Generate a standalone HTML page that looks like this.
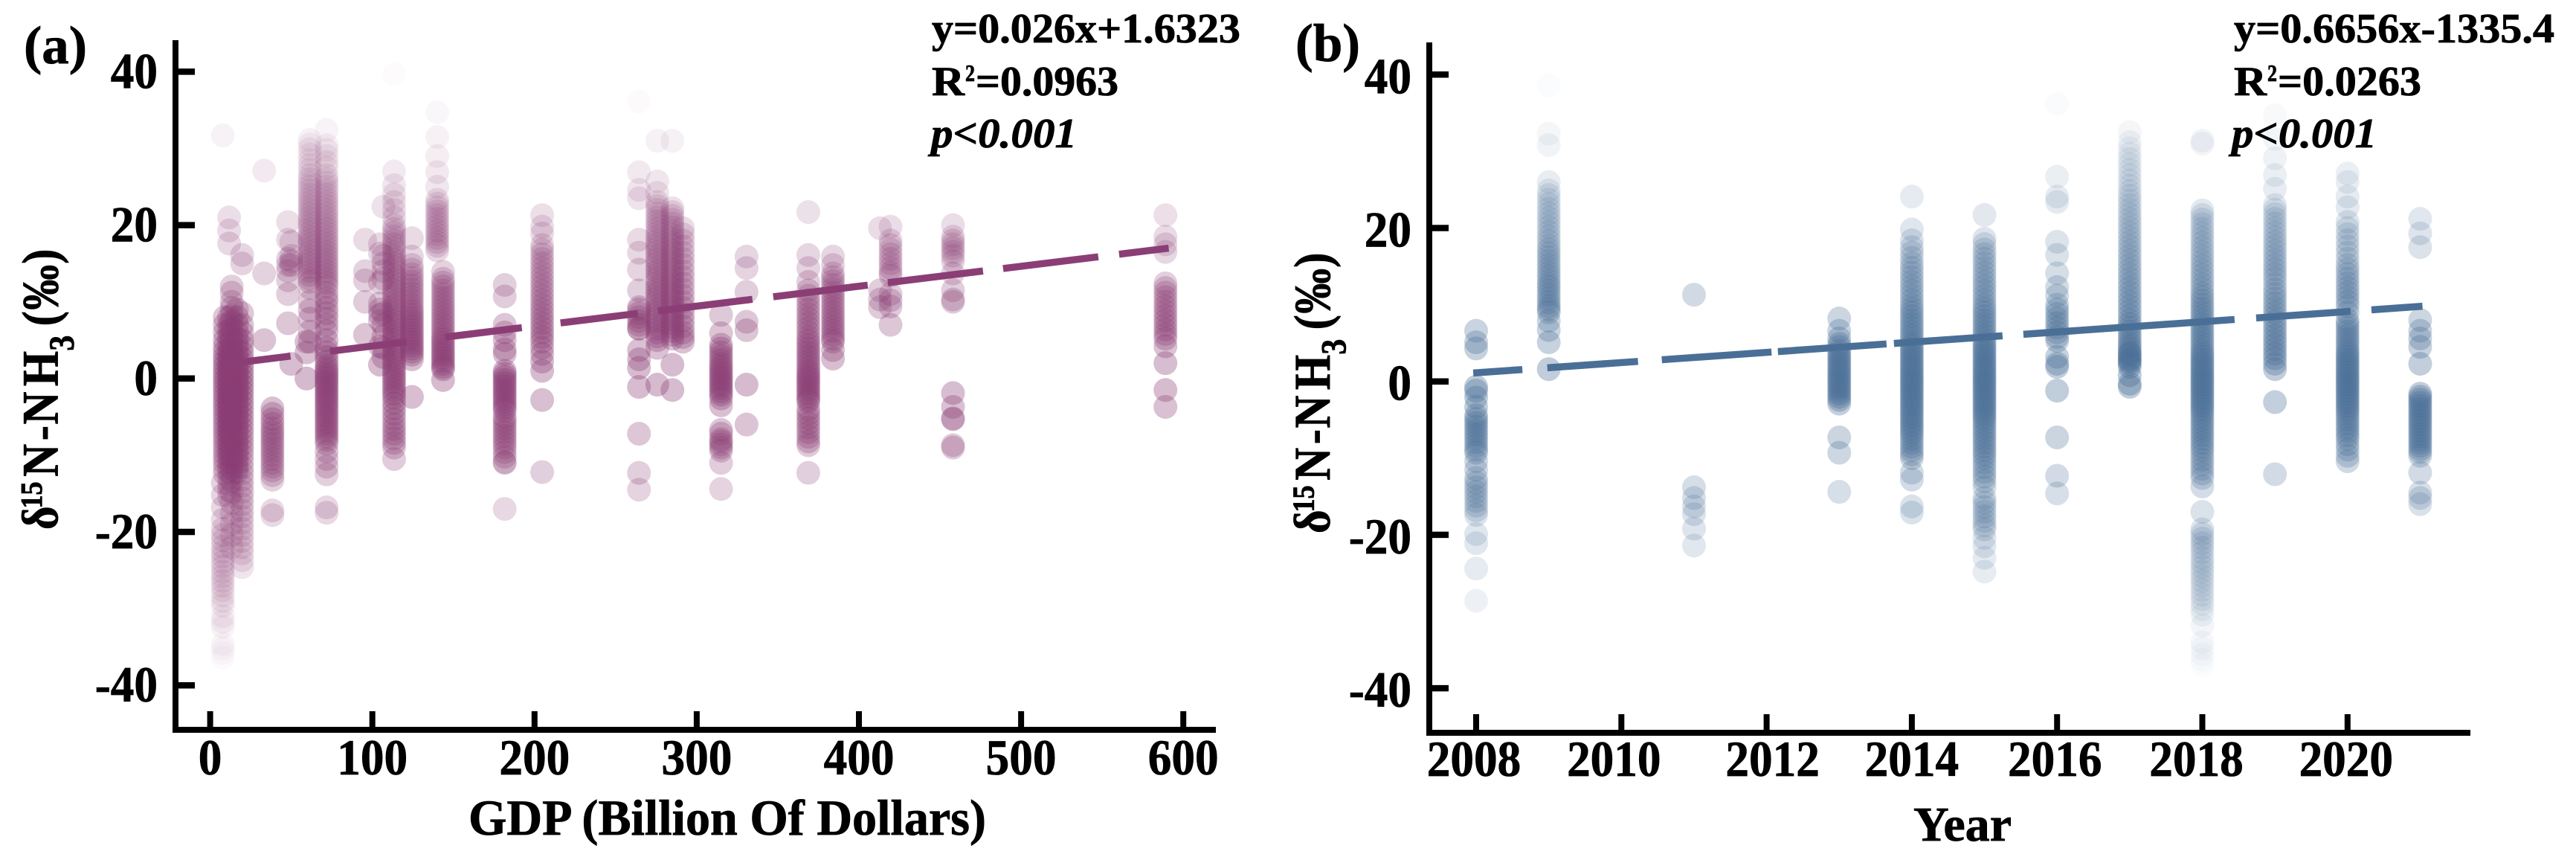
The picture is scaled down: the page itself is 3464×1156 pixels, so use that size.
<!DOCTYPE html>
<html lang="en">
<head>
<meta charset="utf-8">
<title>δ15N-NH3 versus GDP and Year</title>
<style>
html,body{margin:0;padding:0;background:#fff;width:3464px;height:1156px;overflow:hidden}
svg{display:block}
text{font-family:"Liberation Serif",serif;font-weight:bold;fill:#000;stroke:#000;stroke-width:.8px}
</style>
</head>
<body>
<svg id="chart" xmlns="http://www.w3.org/2000/svg" width="3464" height="1156" viewBox="0 0 3464 1156">
  <g id="panel-a">
    <g id="a-points"></g>
    <g id="a-fit"></g>
    <g id="a-axes"></g>
    <text x="32" y="85" font-size="72" textLength="85" lengthAdjust="spacingAndGlyphs">(a)</text>
    <text x="630" y="1122" font-size="68" textLength="696" lengthAdjust="spacingAndGlyphs">GDP (Billion Of Dollars)</text>
    <g transform="translate(77.5 712) rotate(-90) scale(.95 1.08)">
      <text font-size="64"><tspan x="0" y="0">δ</tspan><tspan x="30" y="-20" font-size="38">15</tspan><tspan x="75" y="0">N</tspan><tspan x="126" y="0">-</tspan><tspan x="149" y="0">N</tspan><tspan x="203" y="0">H</tspan><tspan x="253" y="20" font-size="44">3</tspan><tspan x="288" y="0">(</tspan><tspan x="311" y="0">‰</tspan><tspan x="376" y="0">)</tspan></text>
    </g>
    <text x="1253" y="57" font-size="56" textLength="415" lengthAdjust="spacingAndGlyphs">y=0.026x+1.6323</text>
    <g>
      <text x="1253" y="128" font-size="56" textLength="44" lengthAdjust="spacingAndGlyphs">R</text>
      <text x="1298" y="109" font-size="32" textLength="13" lengthAdjust="spacingAndGlyphs">2</text>
      <text x="1312" y="128" font-size="56" textLength="192" lengthAdjust="spacingAndGlyphs">=0.0963</text>
    </g>
    <text x="1252" y="198" font-size="56" font-style="italic" textLength="196" lengthAdjust="spacingAndGlyphs">p&lt;0.001</text>
  </g>
  <g id="panel-b">
    <g id="b-points"></g>
    <g id="b-fit"></g>
    <g id="b-axes"></g>
    <text x="1742" y="82" font-size="72" textLength="87" lengthAdjust="spacingAndGlyphs">(b)</text>
    <text x="2573" y="1130" font-size="66" textLength="132" lengthAdjust="spacingAndGlyphs">Year</text>
    <g transform="translate(1788 717) rotate(-90) scale(.95 1.08)">
      <text font-size="64"><tspan x="0" y="0">δ</tspan><tspan x="30" y="-20" font-size="38">15</tspan><tspan x="75" y="0">N</tspan><tspan x="126" y="0">-</tspan><tspan x="149" y="0">N</tspan><tspan x="203" y="0">H</tspan><tspan x="253" y="20" font-size="44">3</tspan><tspan x="288" y="0">(</tspan><tspan x="311" y="0">‰</tspan><tspan x="376" y="0">)</tspan></text>
    </g>
    <text x="3004" y="57" font-size="56" textLength="431" lengthAdjust="spacingAndGlyphs">y=0.6656x-1335.4</text>
    <g>
      <text x="3004" y="128" font-size="56" textLength="44" lengthAdjust="spacingAndGlyphs">R</text>
      <text x="3049" y="109" font-size="32" textLength="13" lengthAdjust="spacingAndGlyphs">2</text>
      <text x="3063" y="128" font-size="56" textLength="193" lengthAdjust="spacingAndGlyphs">=0.0263</text>
    </g>
    <text x="3001" y="198" font-size="56" font-style="italic" textLength="195" lengthAdjust="spacingAndGlyphs">p&lt;0.001</text>
  </g>
</svg>
<script>
const gdpTicks = [0,100,200,300,400,500,600];
const isotopeTicks = [40,20,0,-20,-40];
const yearTicks = [2008,2010,2012,2014,2016,2018,2020];
const gdpFitSlope = 0.026;
const gdpFitIntercept = 1.6323;
const gdpFitRange = [6,591];
const yearFitSlope = 0.6656;
const yearFitIntercept = -1335.4;
const yearFitRange = [2007.96,2021.04];

const gdpColumns = [7.8,9,11.7,13.3,16.5,19.7,33.3,38.4,48,50,59.4,61.4,71.8,95.5,104.7,106.8,113.4,124.4,140,143.6,181.6,204.7,264.4,275.7,285,291.5,315,330.7,368.8,384,413,419.5,458,589];
const gdpValues = [
[31.7,-13.6,-15.2,-16.8,-18.4,-19.6,-20.4,-21.1,-21.9,-22.6,-23.2,-23.9,-24.5,-25.2,-25.8,-26.4,-27,-27.6,-28.3,-29,-29.6,-31,-31.7,-32.4,-34.6,-35.2,-35.8,-36.4],
[8,7,6,5,4.2,3.5,2.8,2.2,1.6,1,.4,-.2,-.8,-1.4,-2,-2.6,-3.2,-3.8,-4.4,-5,-5.6,-6.2,-6.8,-7.4,-8,-8.6,-9.2,-9.8,-10.4,-11,-11.7,-12.4],
[21,19.3,17.6,8,7,6.2,5.4,4.6,3.8,3.2,2.6,2,1.4,.9,.4,-.2,-.7,-1.2,-1.7,-2.2,-2.7,-3.2,-3.7,-4.2,-4.7,-5.2,-5.7,-6.2,-6.7,-7.2,-7.7,-8.3,-8.9,-9.5,-10.1,-10.8,-11.5,-12.2,-13,-13.8,-14.6,-15.4],
[12,11.2,10,9.2,8.2,7.4,6.6,5.8,5,4.3,3.6,3,2.4,1.8,1.2,.6,0,-.5,-1,-1.5,-2,-2.5,-3,-3.5,-4,-4.5,-5,-5.6,-6.2,-6.8,-7.4,-8,-8.6,-9.2,-9.8,-10.4,-11,-11.7,-12.4,-13.4,-14.8,-16.2,-17.6,-19,-20.4,-22],
[9,8,7,6,5.2,4.4,3.7,3,2.3,1.6,1,.4,-.2,-.8,-1.4,-2,-2.6,-3.2,-3.8,-4.4,-5,-5.6,-6.2,-6.8,-7.4,-8,-8.6,-9.2,-9.8,-10.4,-11,-11.6,-12.2],
[16.1,15,8.5,7,6,5,4.2,3.4,2.6,1.9,1.2,.5,-.2,-.9,-1.6,-2.3,-3,-3.7,-4.4,-5.1,-5.8,-6.5,-7.2,-7.9,-8.6,-9.3,-10,-10.8,-11.6,-12.4,-13.2,-14,-14.8,-15.6,-16.4,-17.2,-18,-18.8,-19.6,-20.4,-21.2,-22,-22.8,-23.7,-24.6],
[27.1,13.7,5],
[-3.9,-4.6,-5.3,-5.9,-6.5,-7,-7.5,-8,-8.5,-9,-9.5,-10,-10.5,-11,-11.5,-12,-12.6,-13.2,-17.2,-17.8],
[20.4,18.1,15.6,14.8,14,12.8,11,7.2],
[17.8,16,15.3,14.8,1.9],
[4.8,3.4,0],
[31.1,30.5,29.9,29.2,28.5,27.8,27.2,26.5,26,25.5,25,24.5,24,23.5,23,22.5,22,21.5,21,20.5,20,19.5,19,18.5,18,17.5,17,16.5,16,15.5,15,14.5,14,13.5,13,12.6,11.8,10,8.9,7.8,6.1,4.8],
[32.4,30.4,29.8,29,28.2,27.5,26.5,26,25.5,25,24.5,24,23.5,23,22.5,22,21.5,21,20.5,20,19.5,19,18.5,18,17.5,17,16.5,16,15.5,15,14.5,14,13.5,13,12.5,12,11.2,10.5,10,9.2,8.5,7.8,7,6.2,5,4,3.4,2.8,2.2,1.6,1.2,.8,.4,0,-.4,-.8,-1.2,-1.6,-2,-2.4,-2.8,-3.2,-3.6,-4,-4.4,-4.8,-5.2,-5.6,-6,-6.4,-6.8,-7.2,-7.6,-8,-8.5,-9.5,-10.5,-11.5,-12.5,-16.8,-17.5],
[18.1,14,12.8,10,5.7],
[17.5,16.3,12.5,9.8,9,8.3,7.5,4.2,1.8],
[22.4,16,15,14,13,8.5,7,5.5,4,2.8],
[39.7,27,25.2,24,23,22,21,20,19.5,19,18.5,18,17.5,17,16.5,16,15.5,15,14.5,14,13.5,13,12.5,12,11.5,11,10.5,10,9.5,9,8.5,8,7.5,7,6.5,6,5.5,5,4.5,4,3.5,3,2.5,2,1.5,1,.5,0,-.5,-1,-1.5,-2,-2.5,-3.2,-3.9,-4.6,-5.3,-6,-6.6,-7.2,-7.8,-8.4,-9,-10.5],
[18.3,15.9,14.8,14.2,13.6,13.1,12.6,12.1,11.6,11.1,10.6,10.1,9.6,9.1,8.7,8.3,7.9,7.5,7.1,6.7,6.3,5.9,5.5,5.1,4.7,4.3,3.9,3.5,3.1,2.5,-2.4],
[34.7,31.5,29,26.9,25,23.3,22.8,22.3,21.8,21.3,20.8,20.3,19.8,19.3,18.8,18.3,17.8,17.3,16.7],
[13.9,13,12.5,12,11.5,11,10.5,10,9.5,9,8.5,8,7.5,7,6.5,6,5.5,5.1,4.7,4.3,3.9,3.5,3.1,2.7,2.3,1.9,1.5,1.2,-.2],
[12.2,10.7,7,6,5,3.8,3.2,1,.6,.2,-.2,-.6,-1,-1.4,-1.8,-2.2,-2.6,-3,-3.4,-3.8,-4.2,-5,-5.5,-6,-6.5,-7,-7.5,-8,-8.5,-9,-9.6,-10.2,-10.9,-11,-17],
[21.3,19.8,18.9,17.4,16.8,16.2,15.6,15,14.4,13.8,13.2,12.6,12,11.4,10.8,10.2,9.6,9,8.4,7.8,7.2,6.6,6,5.4,4.8,4,3.2,2.2,1,-2.8,-12.2],
[36.1,26.9,24.6,23.5,18.1,16.4,14.2,11.5,9.3,9,8.5,8,7.5,7,6.5,6.5,3.7,2.5,1.4,-1.1,-7.2,-12.3,-14.5],
[31,25.7,24.2,23,22.5,22,21.5,21,20.5,20,19.5,19,18.5,18,17.5,17,16.5,16,15.5,15,14.5,14,13.5,13,12.5,12,11.5,11,10.5,10,9.5,9,8.5,8,7.5,7,6.5,6,5.5,5,4,-.8],
[31,22.2,21.7,21.2,20.7,20.2,19.7,19.2,18.7,18.2,17.7,17.2,16.7,16.2,15.7,15.2,14.7,14.2,13.7,13.2,12.7,12.2,11.7,11.2,10.7,10.2,9.7,9.2,8.7,8.2,7.7,7.2,6.7,6.2,5.7,5.2,1.8,-1.5],
[19.6,18.8,18,17.2,16.4,15.6,14.8,14,13.2,12.4,11.6,10.8,10,9.2,8.4,7.6,6.8,6,5.4,4.8],
[8.3,5.9,4.4,3.9,3.4,2.9,2.4,1.9,1.5,1.1,.7,.3,-.1,-.5,-.9,-1.3,-1.7,-2.1,-2.6,-3.5,-6.7,-7.2,-7.9,-8.2,-8.6,-9,-9.4,-11,-14.4],
[15.9,14.4,11.3,7.4,6.3,-.8,-6],
[21.7,16.1,14.4,12.6,11.5,10.8,10.2,9.6,9,8.4,7.8,7.2,6.6,6,5.4,4.9,4.4,3.9,3.4,2.9,2.4,1.9,1.4,.9,.5,.1,-.3,-.7,-1.1,-1.5,-1.9,-2.3,-2.7,-3,-4,-4.6,-5.2,-5.8,-6.4,-7,-7.6,-8.2,-8.7,-12.3],
[15.9,14.8,13.7,13.2,12.7,12.2,11.7,11.2,10.7,10.2,9.7,9.2,8.7,8.2,7.7,7.2,6.7,6.2,5.7,5.2,4.8,3.7,2.6],
[19.6,11.5,10.3,9.3],
[19.8,18,17.4,16.8,16.2,15.6,15,14.4,13.8,13.4,11,10.2,9.4,7],
[20,18.5,18,17.5,17,16.5,16,15.3,13.7,11.5,10.3,10,-1.9,-3.7,-5.2,-5.3,-8.7,-9],
[21.3,18.5,17.5,16.5,12.4,11.8,11.2,10.6,10,9.4,8.8,8.2,7.6,7,6.4,5.8,5.2,4.2,2,-1.5,-3.7]
];

const yearColumns = [2008,2009,2011,2013,2014,2015,2016,2017,2018,2019,2020,2021];
const yearValues = [
[6.6,5.1,4.3,-.7,-1.2,-2.1,-3.3,-4.4,-4.9,-5.4,-5.9,-6.4,-6.9,-7.4,-7.9,-8.4,-8.9,-9.3,-10.4,-11.5,-12.6,-13.2,-13.8,-14.4,-15,-15.6,-16.2,-16.8,-17.4,-19.9,-21.1,-24.4,-28.6],
[38.6,32.3,30.8,26,24.9,24.3,23.7,23.1,22.5,21.9,21.3,20.7,20.1,19.5,18.9,18.3,17.7,17.2,16.7,16.2,15.7,15.2,14.7,14.2,13.7,13.2,12.7,12.3,11.8,11.3,10.8,10.3,9.8,9.4,9,7.9,6.7,5.1,1.6],
[11.3,-13.8,-15.2,-16.3,-17.3,-19.2,-21.4],
[8.2,6.6,5.6,4.9,4.5,4,3.6,3.2,2.8,2.4,2,1.6,1.2,.8,.4,0,-.4,-.8,-1.2,-1.6,-2,-2.4,-2.9,-7.3,-9.3,-14.4],
[24.1,19.8,18.4,17.5,16.8,16.1,15.4,14.8,14.2,13.6,13,12.4,11.8,11.2,10.6,10,9.5,9,8.5,8,7.5,7,6.5,6,5.5,5,4.6,4.2,3.8,3.4,3,2.6,2.2,1.8,1.4,1,.6,.2,-.2,-.6,-1,-1.4,-1.8,-2.2,-2.6,-3,-3.4,-3.8,-4.2,-4.6,-5,-5.4,-5.8,-6.2,-6.6,-7,-7.5,-8,-8.5,-9,-9.5,-10,-11.9,-12.8,-16.3,-17.1],
[21.7,18.6,17.9,17.2,16.6,16,15.4,14.8,14.2,13.6,13,12.4,11.8,11.2,10.6,10,9.5,9,8.5,8,7.5,7,6.5,6,5.5,5,4.6,4.2,3.8,3.4,3,2.6,2.2,1.8,1.4,1,.6,.2,-.2,-.6,-1,-1.4,-1.8,-2.2,-2.6,-3,-3.4,-3.8,-4.2,-4.6,-5,-5.5,-6,-6.5,-7,-7.5,-8,-8.5,-9,-9.5,-10,-10.6,-11.2,-11.8,-12.4,-13,-13.8,-15.2,-15.8,-16.4,-17,-17.6,-18.2,-18.8,-19.3,-20.4,-21.5,-23,-24.8],
[36.2,26.7,24.1,23.4,18.2,16.5,14.1,12.3,11.2,10,9.4,8.8,8.2,7.6,7,6.4,5.8,5.3,3.2,2.3,1.9,-1.2,-7.3,-12.3,-14.6],
[32.5,31.2,30.4,29.7,29,28.3,27.6,26.9,26.2,25.5,24.8,24.2,23.6,23,22.4,21.8,21.2,20.6,20,19.4,18.8,18.2,17.6,17,16.4,15.8,15.2,14.6,14,13.4,12.8,12.2,11.6,11,10.4,9.8,9.2,8.6,8,7.5,7,6.5,6,5.5,5,4.6,4.2,3.8,3.6,3.4,3,2.8,2.6,2.3,1.9,.8,-.3,-.7],
[31.4,31,22.3,21.7,21.1,20.5,19.9,19.3,18.7,18.1,17.5,16.9,16.3,15.7,15.1,14.5,13.9,13.3,12.7,12.1,11.5,11,10.5,10,9.5,9,8.5,8,7.5,7,6.5,6,5.5,5,4.5,4,3.6,3.2,2.8,2.4,2,1.6,1.2,.8,.4,0,-.4,-.8,-1.2,-1.6,-2,-2.4,-2.8,-3.2,-3.6,-4,-4.5,-5,-5.5,-6,-6.5,-7,-7.5,-8,-8.5,-9,-9.6,-10.2,-10.8,-11.4,-12,-12.6,-13.7,-17,-19.3,-19.9,-20.5,-21.1,-21.7,-22.3,-23,-23.6,-24.2,-24.8,-25.4,-26,-26.6,-27.2,-27.8,-28.4,-29,-29.7,-30.4,-31.8,-34,-34.8,-35.6,-36.3,-37],
[34.7,31.6,29.1,26.9,25.1,23,22.4,21.8,21.2,20.6,20,19.4,18.8,18.2,17.6,17,16.4,15.8,15.2,14.6,14,13.4,12.7,12,11.4,10.8,10.2,9.6,9,8.4,7.8,7.2,6.6,6,5.4,4.8,4.2,3.6,3,2.3,1.6,-2.7,-12.1],
[27.1,26,24.1,22.7,20.8,20,19.2,18.4,17.6,16.8,16,15.2,14.6,14,13.4,12.8,12.2,11.6,11,10.4,9.8,9,8,7.5,7,6.5,6,5.5,5,4.5,4,3.6,3.2,2.8,2.4,2,1.6,1.2,.8,.4,0,-.4,-.8,-1.2,-1.6,-2,-2.4,-2.8,-3.2,-3.6,-4,-4.5,-5,-5.5,-6,-6.5,-7,-7.5,-8.2,-8.9,-9.7,-10.4],
[21.2,19.3,17.5,8,6.6,5.6,4.5,2.3,-1.6,-2,-2.4,-2.8,-3.2,-3.6,-4,-4.4,-4.8,-5.2,-5.6,-6,-6.4,-6.8,-7.2,-7.6,-8,-8.4,-8.8,-9.2,-9.7,-11.9,-14.5,-15.2,-16]
];

const yearLabelNudge = {2008:-3,2010:-10,2012:8,2014:0,2016:-3,2018:-8,2020:-2};

const SVG_NS = 'http://www.w3.org/2000/svg';
const gdpToX = v => 282.6 + 2.181 * v;
const isotopeToYA = v => 508.8 - 10.31 * v;
const yearToX = v => 1985 + 97.65 * (v - 2008);
const isotopeToYB = v => 512.7 - 10.31 * v;
const pointAlpha = v => Math.max(0.02, 0.36 - 0.0092 * Math.abs(v));

function drawPoints(groupId, columns, values, xScale, yScale, color, pointName) {
  const group = document.getElementById(groupId);
  columns.forEach((column, i) => {
    values[i].forEach(value => {
      const dot = document.createElementNS(SVG_NS, 'circle');
      
      
      dot.setAttribute('cx', xScale(column));
      dot.setAttribute('cy', yScale(value));
      dot.setAttribute('r', 16);
      dot.setAttribute('fill', color);
      dot.setAttribute('fill-opacity', pointAlpha(value));
      group.appendChild(dot);
    });
  });
}

function drawFit(groupId, range, slope, intercept, xScale, yScale, color, dashes, fitName) {
  const group = document.getElementById(groupId);
  const line = document.createElementNS(SVG_NS, 'line');
  
  
  line.setAttribute('x1', xScale(range[0]));
  line.setAttribute('y1', yScale(slope * range[0] + intercept));
  line.setAttribute('x2', xScale(range[1]));
  line.setAttribute('y2', yScale(slope * range[1] + intercept));
  line.setAttribute('stroke', color);
  line.setAttribute('stroke-width', 9.5);
  line.setAttribute('stroke-dasharray', dashes);
  group.appendChild(line);
}

function rule(group, x1, y1, x2, y2, width, name) {
  const el = document.createElementNS(SVG_NS, 'line');
  
  
  el.setAttribute('x1', x1);
  el.setAttribute('y1', y1);
  el.setAttribute('x2', x2);
  el.setAttribute('y2', y2);
  el.setAttribute('stroke', '#000');
  el.setAttribute('stroke-width', width);
  group.appendChild(el);
}

function tickText(group, str, x, y, anchor, name) {
  const t = document.createElementNS(SVG_NS, 'text');
  
  
  t.setAttribute('transform', 'translate(' + x + ' ' + y + ') scale(.93 1)');
  t.setAttribute('font-size', 68);
  t.setAttribute('text-anchor', anchor);
  t.textContent = str;
  group.appendChild(t);
}

function drawAxes(groupId, opts) {
  const group = document.getElementById(groupId);
  rule(group, opts.axisX, opts.top, opts.axisX, opts.axisY + 4, 8, 'y-axis-line');
  rule(group, opts.axisX - 4, opts.axisY, opts.right, opts.axisY, 8, 'x-axis-line');
  opts.yTicks.forEach(v => {
    rule(group, opts.axisX, opts.yScale(v), opts.axisX + 26, opts.yScale(v), 8.5, 'y-tick');
    tickText(group, String(v), opts.axisX - 24, opts.yScale(v) + opts.yLabelDrop, 'end', 'y-tick-label');
  });
  opts.xTicks.forEach(v => {
    rule(group, opts.xScale(v), opts.axisY, opts.xScale(v), opts.axisY - 25, 8, 'x-tick');
    tickText(group, String(v), opts.xScale(v) + (opts.nudge[v] || 0), opts.xLabelY, 'middle', 'x-tick-label');
  });
}

drawPoints('a-points', gdpColumns, gdpValues, gdpToX, isotopeToYA, '#8b3e75', 'gdp-point');
drawPoints('b-points', yearColumns, yearValues, yearToX, isotopeToYB, '#4a6f97', 'year-point');

drawFit('a-fit', gdpFitRange, gdpFitSlope, gdpFitIntercept, gdpToX, isotopeToYA, '#8b3e75',
  '95.7 53.4 103.8 52.4 103.8 52.4 104.8 27.2 128 28.2 128 27.2 129 27.2 129 28.2 68', 'gdp-trend-line');
drawFit('b-fit', yearFitRange, yearFitSlope, yearFitIntercept, yearToX, isotopeToYB, '#4a6f97',
  '66.2 33.6 122.3 32.1 147.9 8.6 146.4 10 146.4 28.1 284.7 29.1 127.3 28.1 68.8', 'year-trend-line');

drawAxes('a-axes', {axisX:236, axisY:981, top:54, right:1635, yTicks:isotopeTicks, xTicks:gdpTicks, xScale:gdpToX, yScale:isotopeToYA, yLabelDrop:22, xLabelY:1041, nudge:{}});
drawAxes('b-axes', {axisX:1922, axisY:985, top:57, right:3322, yTicks:isotopeTicks, xTicks:yearTicks, xScale:yearToX, yScale:isotopeToYB, yLabelDrop:25, xLabelY:1043, nudge:yearLabelNudge});
</script>
</body>
</html>
